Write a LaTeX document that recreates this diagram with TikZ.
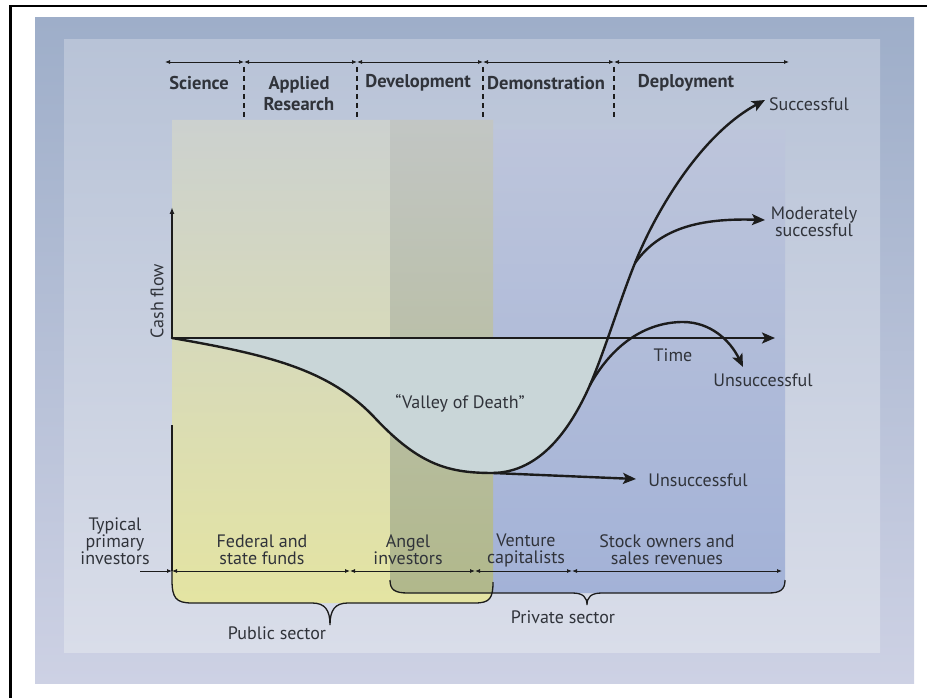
\documentclass[tikz,border=0pt]{standalone}
\usepackage{fontspec}
\setmainfont{PT Sans}
\usetikzlibrary{arrows.meta}

\definecolor{ink}{HTML}{1C1C1C}
\definecolor{txt}{HTML}{30333A}
\definecolor{outerTop}{HTML}{9EAEC9}
\definecolor{outerBot}{HTML}{CDD1E4}
\definecolor{panelTop}{HTML}{B8C3D7}
\definecolor{panelBot}{HTML}{D9DDE9}
\definecolor{yelTop}{HTML}{CCD1CF}
\definecolor{yelMid}{HTML}{E0E0AA}
\definecolor{yelBot}{HTML}{E4E4A2}
\definecolor{bluTop}{HTML}{BDC5DB}
\definecolor{bluMid}{HTML}{A9B5D9}
\definecolor{bluBot}{HTML}{A3B2D7}
\definecolor{oliTop}{HTML}{C2C6C4}
\definecolor{oliMid}{HTML}{B4B992}
\definecolor{oliBot}{HTML}{B1B88B}
\definecolor{valley}{HTML}{C9D6D8}

\tikzset{
  lbl/.style={text=txt, inner sep=0pt, align=center, font=\fontsize{18}{17}\selectfont},
  phase/.style={lbl, font=\bfseries\fontsize{18.5}{21}\selectfont},
  span/.style={draw=ink, line width=.8pt, {Latex[length=5pt,width=4pt]}-{Latex[length=5pt,width=4pt]}},
  curve/.style={draw=ink, line width=2.4pt, line cap=round},
  flow/.style={curve, -{Stealth[length=13pt,width=11pt,inset=3pt]}},
  brace/.style={draw=ink, line width=1.3pt},
}

\begin{document}
\begin{tikzpicture}[x=1pt,y=-1pt]
    \useasboundingbox (0,0) rectangle (927,698);
    % backgrounds
    \shade[top color=outerTop, bottom color=outerBot] (35,18) rectangle (914,683);
    \shade[top color=panelTop, bottom color=panelBot] (64,40) rectangle (880,652);
    \draw[black, line width=2pt] (9,6.5) -- (927,6.5);
    \draw[black, line width=3pt] (10.5,6) -- (10.5,698);

    % funding columns
    \shade[top color=yelTop, middle color=yelMid, bottom color=yelBot]
        (172,120) -- (172,580) .. controls (172,598) and (176,603) .. (192,603)
        -- (475,603) .. controls (490,603) and (493,598) .. (493,582) -- (493,120) -- cycle;
    \shade[top color=bluTop, middle color=bluMid, bottom color=bluBot]
        (390,130) -- (390,580) .. controls (390,590) and (395,593) .. (408,593)
        -- (768,593) .. controls (780,593) and (785,590) .. (785,580) -- (785,130) -- cycle;
    \shade[top color=oliTop, middle color=oliMid, bottom color=oliBot]
        (390,120) -- (390,580) .. controls (390,590) and (395,593) .. (408,593)
        -- (493,593) -- (493,120) -- cycle;

    % curve points
    \coordinate (o) at (172,338);
    \coordinate (vmin) at (493,473);
    \coordinate (s1) at (590,385);
    \coordinate (m1) at (635,263);
    \coordinate (peak) at (683,322);
    \coordinate (sTip) at (765,100);
    \coordinate (mTip) at (765,220);
    \coordinate (uTip) at (743,367);
    \coordinate (lTip) at (636,479);
    \coordinate (xTip) at (775,338);
    \coordinate (yTip) at (172,207);

    % valley of death
    \begin{scope}
        \clip (172,338) rectangle (800,500);
        \fill[valley] (o) .. controls (270,355) and (330,370) .. (375,418)
            .. controls (420,466) and (450,473) .. (vmin)
            .. controls (540,472) and (570,430) .. (s1)
            .. controls (605,350) and (620,300) .. (m1) -- cycle;
    \end{scope}

    % axes
    \draw[ink, line width=1.4pt, -{Latex[length=7pt,width=5pt]}] (o) -- (yTip);
    \draw[ink, line width=2pt] (172,425) -- (172,571);
    \draw[flow] (o) -- (xTip);

    % cash flow curves
    \draw[curve] (o) .. controls (270,355) and (330,370) .. (375,418)
        .. controls (420,466) and (450,473) .. (vmin)
        .. controls (540,472) and (570,430) .. (s1);
    \draw[flow] (s1) .. controls (605,350) and (620,300) .. (m1)
        .. controls (655,213) and (700,135) .. (sTip);
    \draw[flow] (m1) .. controls (660,228) and (700,218) .. (mTip);
    \draw[flow] (s1) .. controls (615,340) and (650,322) .. (peak)
        .. controls (710,322) and (730,340) .. (uTip);
    \draw[flow] (vmin) -- (lTip);

    % phases
    \foreach \x [count=\i] in {165,244,357,483,614,789}
        \coordinate (t\i) at (\x,62);
    \foreach \i/\j in {1/2,2/3,3/4,4/5,5/6}
        \draw[span] (t\i) -- (t\j);
    \foreach \i in {2,...,5}
        \draw[ink, line width=1.8pt, dash pattern=on 5pt off 4pt] (t\i) ++(0,5) -- ++(0,53);
    \node[phase] (sci) at (199,83) {Science};
    \node[phase] (app) at (299,93.5) {Applied\\Research};
    \node[phase] (dev) at (418,83) {Development};
    \node[phase] (dem) at (546,83) {Demonstration};
    \node[phase] (dep) at (686,83) {Deployment};

    % outcome labels
    \node[lbl] (succ) at (809,104) {Successful};
    \node[lbl] (mod) at (814,222) {Moderately\\successful};
    \node[lbl] (time) at (673,355) {Time};
    \node[lbl] (unsA) at (763,380) {Unsuccessful};
    \node[lbl] (unsB) at (698,480) {Unsuccessful};
    \node[lbl] (vod) at (460,403) {“Valley of Death”};
    \node[lbl, rotate=90] (cash) at (157,301) {Cash flow};

    % investors
    \node[lbl] (typ) at (115,541) {Typical\\primary\\investors};
    \coordinate (b0) at (140,571);
    \foreach \x [count=\i] in {172,350,475,572,782}
        \coordinate (b\i) at (\x,571);
    \draw[ink, line width=.8pt, -{Latex[length=5pt,width=4pt]}] (b0) -- (b1);
    \foreach \i/\j in {1/2,2/3,3/4,4/5}
        \draw[span] (b\i) -- (b\j);
    \node[lbl] (fed) at (262,550) {Federal and\\state funds};
    \node[lbl] (ang) at (408,550) {Angel\\investors};
    \node[lbl] (ven) at (526,550) {Venture\\capitalists};
    \node[lbl] (stk) at (667,550) {Stock owners and\\sales revenues};

    % sectors
    \draw[brace] (172,571) -- (172,580) .. controls (172,598) and (176,603) .. (192,603)
        -- (312,603) .. controls (325,603) and (330,610) .. (330,625)
        .. controls (330,610) and (335,603) .. (348,603)
        -- (475,603) .. controls (490,603) and (493,598) .. (493,582);
    \draw[brace] (390,580) .. controls (390,590) and (395,593) .. (408,593)
        -- (572,593) .. controls (583,593) and (587,597) .. (587,605)
        .. controls (587,597) and (591,593) .. (602,593)
        -- (768,593) .. controls (780,593) and (785,590) .. (785,580);
    \node[lbl] (pub) at (277,633) {Public sector};
    \node[lbl] (priv) at (563,617) {Private sector};
\end{tikzpicture}
\end{document}
